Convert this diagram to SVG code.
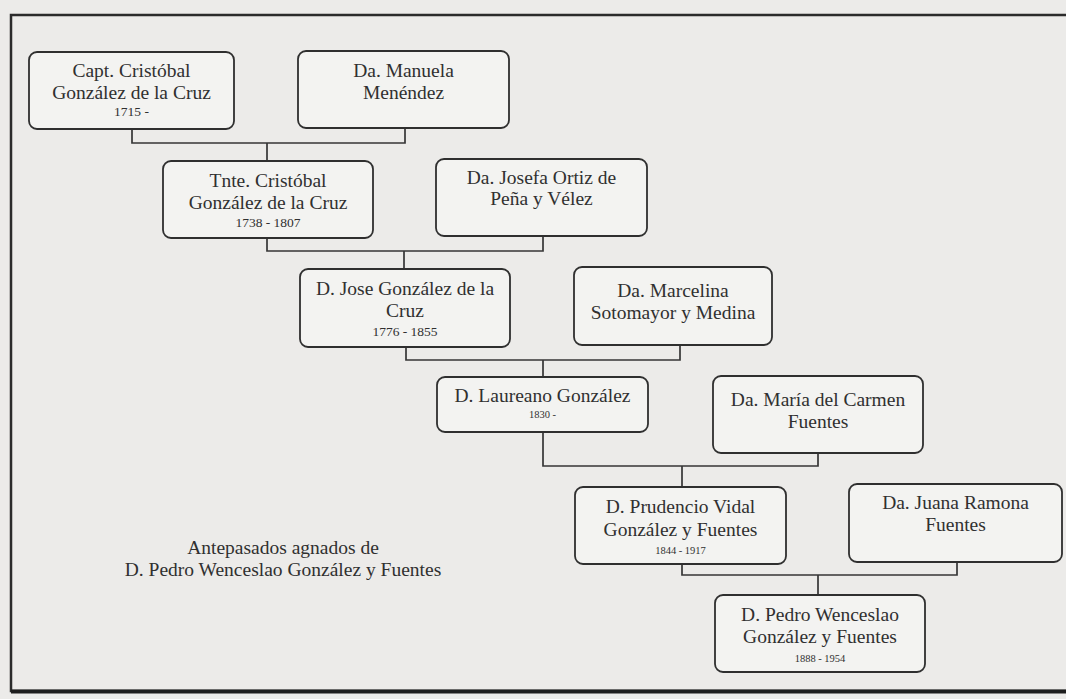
<svg xmlns="http://www.w3.org/2000/svg" width="1066" height="699" viewBox="0 0 1066 699">
<style>
.bg{fill:#ecebe9}
.frame{fill:none;stroke:#2b2b2b;stroke-width:2.5}
.box{fill:#f3f3f1;stroke:#2f2f2f;stroke-width:1.8}
.t{font-family:"Liberation Serif","DejaVu Serif",serif;font-size:19.5px;fill:#303030;text-anchor:middle}
.y{font-family:"Liberation Serif","DejaVu Serif",serif;font-size:13.5px;fill:#303030;text-anchor:middle}
.ys{font-family:"Liberation Serif","DejaVu Serif",serif;font-size:10.5px;fill:#303030;text-anchor:middle}
.c{fill:none;stroke:#363636;stroke-width:1.7}
</style>
<rect class="bg" x="0" y="0" width="1066" height="699"/>
<path class="frame" d="M1068,15 H11 V691 H1068"/>
<line x1="11" y1="691.5" x2="1066" y2="691.5" stroke="#1e1e1e" stroke-width="4"/>

<g id="connectors">
<path class="c" d="M132,129 V143 H405 V128 M267,143 V161"/>
<path class="c" d="M267,238 V251 H543 V236 M404,251 V269"/>
<path class="c" d="M406,347 V360 H680 V345 M543,360 V377"/>
<path class="c" d="M543,432 V466 H818 V453 M682,466 V487"/>
<path class="c" d="M682,564 V575 H957 V562 M818,575 V595"/>
</g>

<g id="n1"><rect class="box" x="29" y="52" width="205" height="77" rx="8"/>
<text class="t" x="131.5" y="77">Capt. Cristóbal</text>
<text class="t" x="131.5" y="99">González de la Cruz</text>
<text class="y" x="131.5" y="116">1715 -</text></g>

<g id="n2"><rect class="box" x="298" y="51" width="211" height="77" rx="8"/>
<text class="t" x="403.5" y="77">Da. Manuela</text>
<text class="t" x="403.5" y="99">Menéndez</text></g>

<g id="n3"><rect class="box" x="163" y="161" width="210" height="77" rx="8"/>
<text class="t" x="268" y="187">Tnte. Cristóbal</text>
<text class="t" x="268" y="209">González de la Cruz</text>
<text class="y" x="268" y="227">1738 - 1807</text></g>

<g id="n4"><rect class="box" x="436" y="159" width="211" height="77" rx="8"/>
<text class="t" x="541.5" y="184">Da. Josefa Ortiz de</text>
<text class="t" x="541.5" y="205">Peña y Vélez</text></g>

<g id="n5"><rect class="box" x="300" y="269" width="210" height="78" rx="8"/>
<text class="t" x="405" y="295">D. Jose González de la</text>
<text class="t" x="405" y="317">Cruz</text>
<text class="y" x="405" y="336">1776 - 1855</text></g>

<g id="n6"><rect class="box" x="574" y="267" width="198" height="78" rx="8"/>
<text class="t" x="673" y="297">Da. Marcelina</text>
<text class="t" x="673" y="319">Sotomayor y Medina</text></g>

<g id="n7"><rect class="box" x="437" y="377" width="211" height="55" rx="8"/>
<text class="t" x="542.5" y="402">D. Laureano González</text>
<text class="ys" x="542.5" y="418">1830 -</text></g>

<g id="n8"><rect class="box" x="713" y="376" width="210" height="77" rx="8"/>
<text class="t" x="818" y="406">Da. María del Carmen</text>
<text class="t" x="818" y="428">Fuentes</text></g>

<g id="n9"><rect class="box" x="575" y="487" width="211" height="77" rx="8"/>
<text class="t" x="680.5" y="513">D. Prudencio Vidal</text>
<text class="t" x="680.5" y="536">González y Fuentes</text>
<text class="ys" x="680.5" y="554">1844 - 1917</text></g>

<g id="n10"><rect class="box" x="849" y="484" width="213" height="78" rx="8"/>
<text class="t" x="955.5" y="509">Da. Juana Ramona</text>
<text class="t" x="955.5" y="531">Fuentes</text></g>

<g id="n11"><rect class="box" x="715" y="595" width="210" height="77" rx="8"/>
<text class="t" x="820" y="621">D. Pedro Wenceslao</text>
<text class="t" x="820" y="643">González y Fuentes</text>
<text class="ys" x="820" y="662">1888 - 1954</text></g>

<g id="caption">
<text class="t" x="283" y="554">Antepasados agnados de</text>
<text class="t" x="283" y="576">D. Pedro Wenceslao González y Fuentes</text>
</g>
</svg>
